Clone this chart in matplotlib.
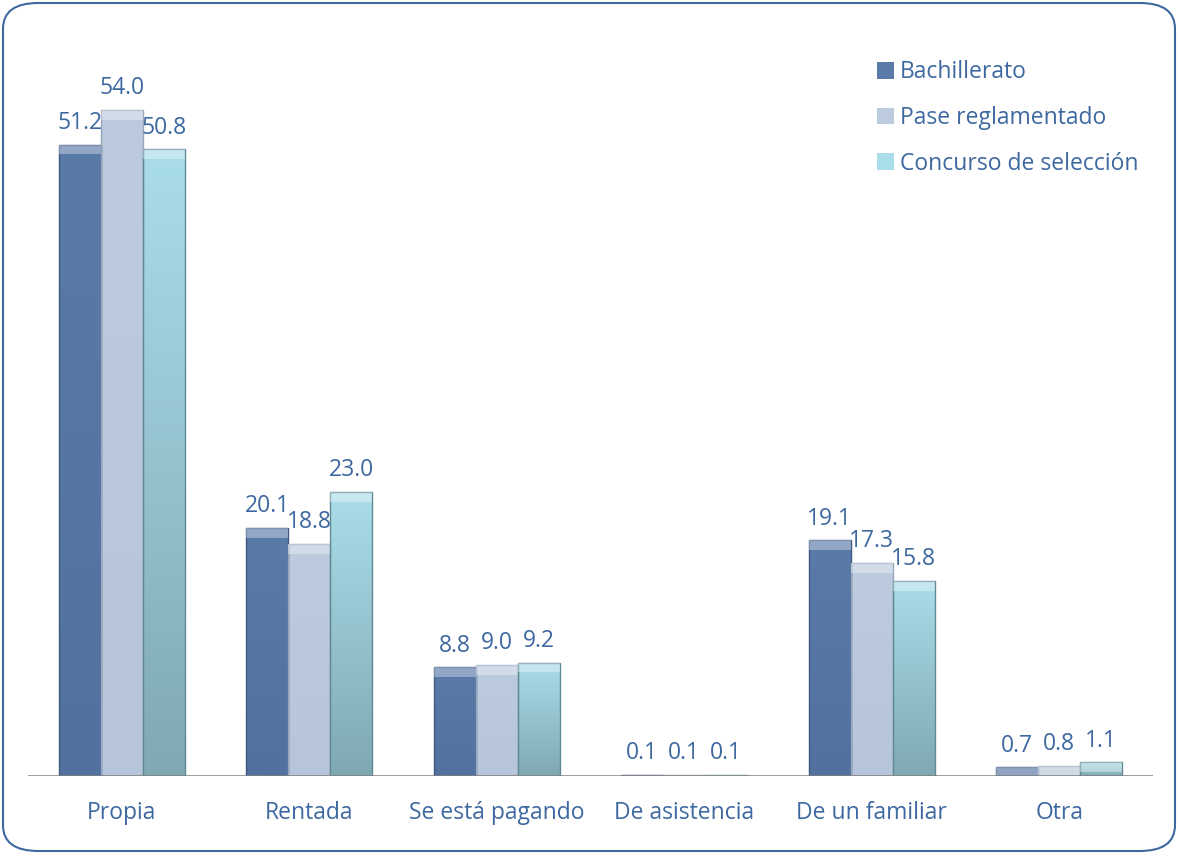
import numpy as np
import matplotlib
matplotlib.use("Agg")
import matplotlib.pyplot as plt
from matplotlib.patches import FancyBboxPatch, Rectangle
from matplotlib.colors import LinearSegmentedColormap

categorias = ["Propia", "Rentada", "Se está pagando", "De asistencia", "De un familiar", "Otra"]
series = ["Bachillerato", "Pase reglamentado", "Concurso de selección"]
bachillerato = [51.2, 20.1, 8.8, 0.1, 19.1, 0.7]
pase = [54.0, 18.8, 9.0, 0.1, 17.3, 0.8]
concurso = [50.8, 23.0, 9.2, 0.1, 15.8, 1.1]

# colores (arriba, abajo, borde) de cada serie
colores = [("#5a7aa8", "#52719e", "#3f5a80"),
           ("#bccbde", "#b6c5da", "#96a6bc"),
           ("#a9dde9", "#7fa9b3", "#5f8a94")]
texto = "#3d68a0"

plt.rcParams["font.family"] = ["Open Sans", "DejaVu Sans"]

fig = plt.figure(figsize=(11.78, 8.59), dpi=100)
ax = fig.add_axes([28 / 1178, (859 - 776) / 859, (1153 - 28) / 1178, (776 - 36) / 859])
ax.set_xlim(-0.5, 5.5)
ax.set_ylim(0, 60)

ancho = 0.224
x = np.arange(len(categorias))
datos = [bachillerato, pase, concurso]
for i, valores in enumerate(datos):
    pos = x + (i - 1) * ancho
    barras = ax.bar(pos, valores, ancho, color=colores[i][0], edgecolor="none", label=series[i])
    cmap = LinearSegmentedColormap.from_list("g", [colores[i][1], colores[i][0]])
    grad = np.linspace(0, 1, 100).reshape(-1, 1)
    for b, v in zip(barras, valores):
        im = ax.imshow(grad, cmap=cmap, origin="lower", aspect="auto",
                       extent=(b.get_x(), b.get_x() + b.get_width(), 0, v), zorder=2)
        im.set_clip_path(b)
        ax.add_patch(Rectangle((b.get_x(), 0), b.get_width(), v, facecolor="none",
                               edgecolor=colores[i][2], lw=1.0, zorder=3))
        # bisel superior
        ax.add_patch(Rectangle((b.get_x(), v - min(0.8, v)), b.get_width(), min(0.8, v),
                               facecolor="white", alpha=0.35, edgecolor="none", zorder=3))
        ax.text(b.get_x() + b.get_width() / 2, v + 0.8, f"{v:.1f}", ha="center", va="bottom",
                fontsize=16.5, color=texto, zorder=4)

ax.axhline(0, color="#808080", lw=1.8, zorder=5)
for s in ax.spines.values():
    s.set_visible(False)
ax.set_yticks([])
ax.set_xticks(x)
ax.set_xticklabels(categorias, fontsize=16.5, color=texto)
ax.tick_params(axis="x", length=0, pad=18)

leg = ax.legend(loc="upper left", bbox_to_anchor=((868 - 28) / 1125, (776 - 51) / 740),
                frameon=False, fontsize=16.5, handlelength=0.75, handleheight=0.75,
                handletextpad=0.25, labelspacing=0.95, borderaxespad=0)
for t in leg.get_texts():
    t.set_color(texto)

marco = FancyBboxPatch((3 / 1178, 8 / 859), 1172 / 1178, 848 / 859,
                       boxstyle="round,pad=0,rounding_size=0.03", transform=fig.transFigure,
                       facecolor="none", edgecolor="#3d68a0", lw=1.5)
fig.patches.append(marco)

fig.savefig("out.png", dpi=100)
